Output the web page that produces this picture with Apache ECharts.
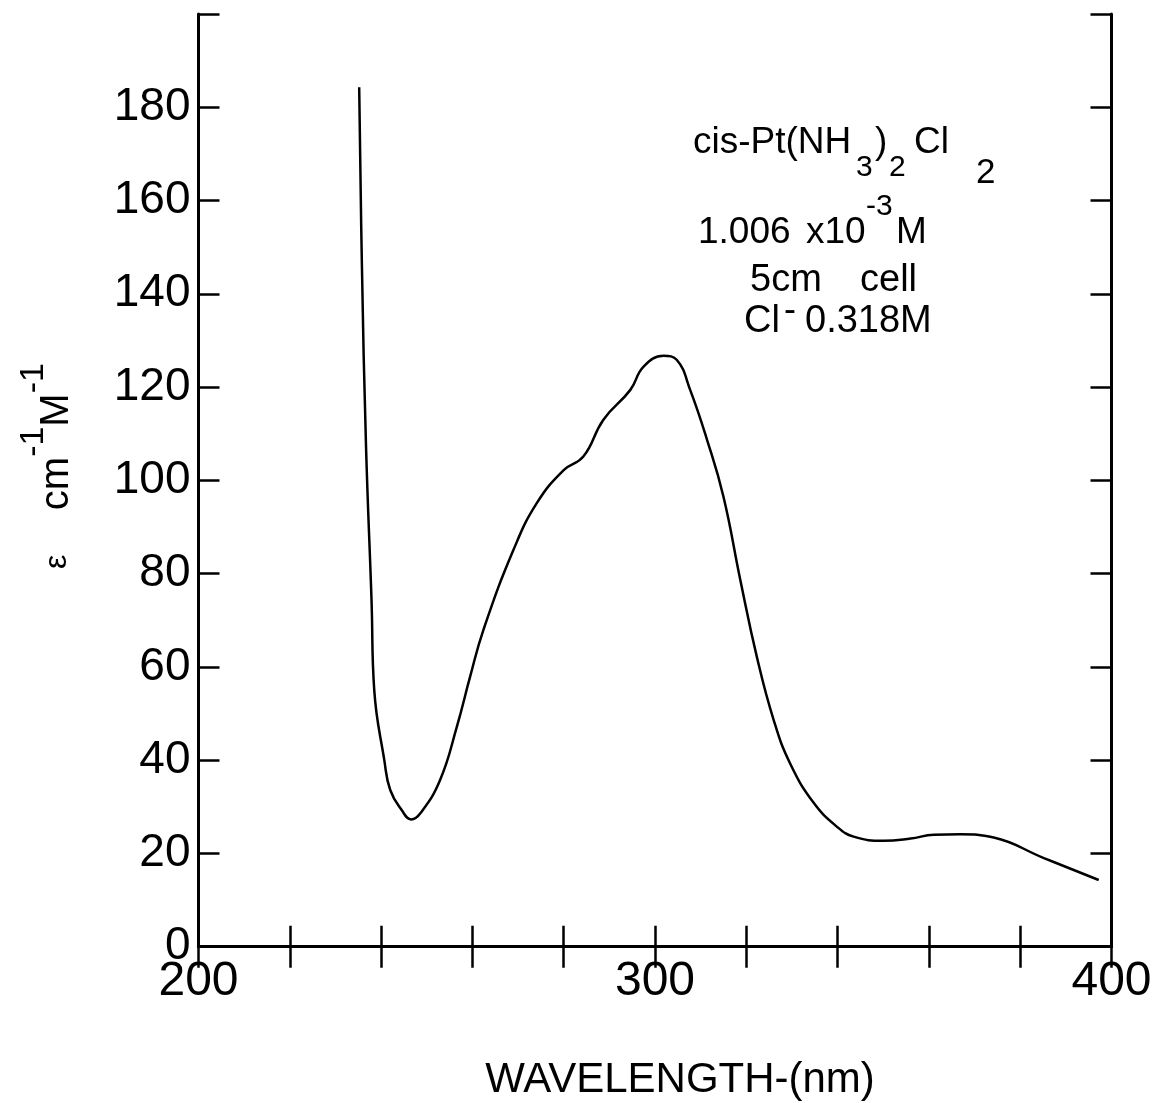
<!DOCTYPE html>
<html><head><meta charset="utf-8">
<script src="https://cdn.jsdelivr.net/npm/echarts@6/dist/echarts.min.js"></script>
<style>html,body{margin:0;padding:0;background:#fff}#c{width:1161px;height:1103px}</style>
</head><body><div id="c"></div>
<script>
// Wavelength (nm) of each traced point
const wavelength = [235.2, 235.8, 236.7, 237.9, 238.5, 240.7, 242.0, 244.5, 246.6, 248.6, 252.9, 256.6, 259.5, 262.4, 269.0, 274.1, 280.0, 284.3, 288.7, 294.6, 297.5, 301.9, 304.8, 307.7, 311.4, 315.0, 318.7, 322.3, 326.0, 329.6, 334.8, 339.9, 343.5, 350.1, 356.0, 361.1, 366.9, 374.2, 385.2, 397.2];
// Molar absorptivity (cm^-1 M^-1)
const epsilon = [184.3, 145.9, 107.2, 74.4, 55.0, 40.0, 33.6, 29.3, 27.3, 28.6, 35.7, 47.2, 57.9, 67.9, 85.1, 95.1, 102.2, 105.1, 113.0, 119.4, 124.4, 126.7, 125.8, 119.4, 108.7, 96.5, 78.6, 62.2, 48.6, 39.3, 30.8, 25.7, 23.6, 22.7, 23.2, 24.0, 24.1, 23.4, 19.0, 14.3];
const xTickLabels = [200, 300, 400];
const yTickLabels = [0, 20, 40, 60, 80, 100, 120, 140, 160, 180];
const xTitle = 'WAVELENGTH-(nm)';

const FONT = '"Liberation Sans", Arial, sans-serif';
const chart = echarts.init(document.getElementById('c'), null, {renderer: 'canvas'});

const axisLineStyle = {color: '#000', width: 3};
const tickStyle = {show: true, inside: true, length: 21, lineStyle: {color: '#000', width: 2.5}};

function txt(text, x, y, size, extra) {
  return Object.assign({
    type: 'text', x: x, y: y,
    style: {text: text, font: 'normal ' + size + 'px ' + FONT, fill: '#000', align: 'left', verticalAlign: 'top'}
  }, extra || {});
}

chart.setOption({
  animation: false,
  backgroundColor: '#fff',
  grid: {left: 198.5, right: 49.5, top: 14, bottom: 156.3, containLabel: false},
  xAxis: [
    {type: 'value', min: 200, max: 400, interval: 20, position: 'bottom',
     axisLine: {show: true, lineStyle: axisLineStyle}, axisTick: tickStyle, splitLine: {show: false},
     axisLabel: {show: true, margin: 11, color: '#000', fontSize: 48, fontFamily: FONT,
       formatter: v => xTickLabels.includes(v) ? String(v) : ''}},
    {type: 'value', min: 200, max: 400, interval: 20, position: 'top',
     axisLine: {show: true, lineStyle: axisLineStyle}, axisTick: tickStyle, splitLine: {show: false},
     axisLabel: {show: false}}
  ],
  yAxis: [
    {type: 'value', min: 0, max: 200, interval: 20, position: 'left',
     axisLine: {show: true, lineStyle: axisLineStyle}, axisTick: tickStyle, splitLine: {show: false},
     axisLabel: {show: true, margin: 8, color: '#000', fontSize: 46, fontFamily: FONT,
       formatter: v => yTickLabels.includes(v) ? String(v) : ''}},
    {type: 'value', min: 0, max: 200, interval: 20, position: 'right',
     axisLine: {show: true, lineStyle: axisLineStyle}, axisTick: tickStyle, splitLine: {show: false},
     axisLabel: {show: false}}
  ],
  series: [{
    type: 'line', xAxisIndex: 0, yAxisIndex: 0,
    data: wavelength.map((w, i) => [w, epsilon[i]]),
    showSymbol: false, smooth: 0.45,
    lineStyle: {color: '#000', width: 2.5}
  }],
  graphic: [
    // compound annotation
    txt('cis-Pt(NH', 693, 124, 37),
    txt('3', 856, 153, 30),
    txt(')', 875, 124, 37),
    txt('2', 889, 153, 30),
    txt('Cl', 914, 124, 37),
    txt('2', 976, 156, 35),
    txt('1.006', 698, 214, 37),
    txt('x10', 806, 214, 37),
    txt('-3', 866, 192, 30),
    txt('M', 896, 214, 37),
    txt('5cm', 750, 262, 38),
    txt('cell', 860, 262, 38),
    txt('Cl', 744, 303, 38),
    txt('-', 784, 293, 36),
    txt('0.318M', 805, 303, 38),
    // x title
    {type: 'text', x: 680, y: 1080,
     style: {text: xTitle, font: 'normal 42px ' + FONT, fill: '#000', align: 'center', verticalAlign: 'middle'}},
    // y title (rotated, rich superscripts)
    {type: 'text', x: 47, y: 466, rotation: Math.PI / 2,
     style: {text: '{e|\u03b5}{n|    cm}{s|-1}{n|M}{s|-1}', align: 'center', verticalAlign: 'middle', fill: '#000',
       rich: {
         e: {fontSize: 32, fontFamily: FONT, verticalAlign: 'bottom', lineHeight: 60, padding: [0, 0, 4, 0]},
         n: {fontSize: 40, fontFamily: FONT, verticalAlign: 'bottom', lineHeight: 60},
         s: {fontSize: 34, fontFamily: FONT, verticalAlign: 'top', lineHeight: 34}
       }}}
  ]
});
</script>
</body></html>
